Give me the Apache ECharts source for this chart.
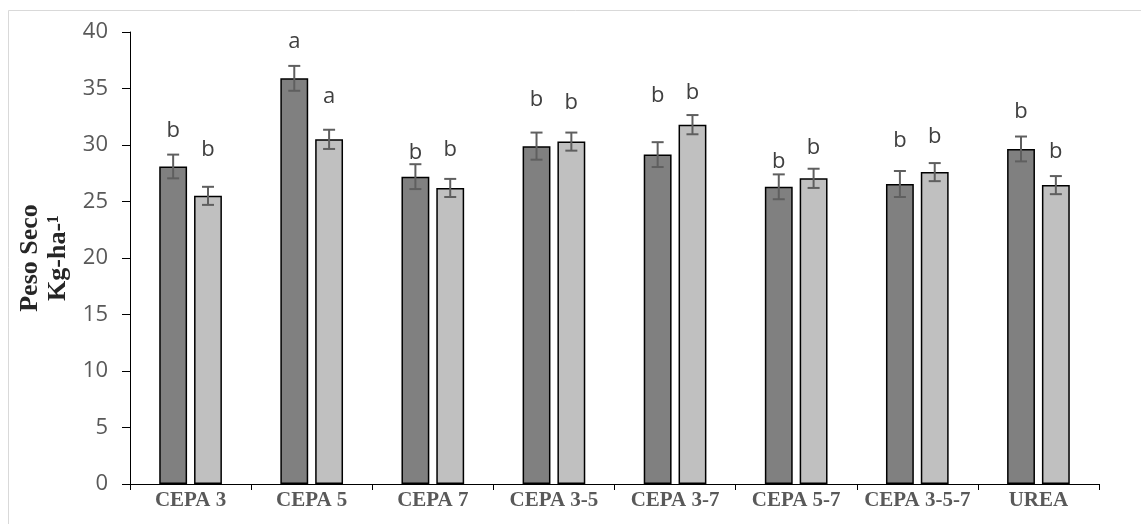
<!DOCTYPE html>
<html>
<head>
<meta charset="utf-8">
<script src="https://cdn.jsdelivr.net/npm/echarts@6/dist/echarts.min.js"></script>
<style>
html,body{margin:0;padding:0;background:#fff;}
#chart{width:1141px;height:524px;}
</style>
</head>
<body>
<div id="chart"></div>
<script>
var categories = ['CEPA 3','CEPA 5','CEPA 7','CEPA 3-5','CEPA 3-7','CEPA 5-7','CEPA 3-5-7','UREA'];
var darkValues  = [28.1, 35.9, 27.2, 29.9, 29.15, 26.3, 26.55, 29.65];
var lightValues = [25.5, 30.5, 26.2, 30.3, 31.8, 27.05, 27.6, 26.45];
var darkErr  = [1.05, 1.1, 1.1, 1.2, 1.1, 1.1, 1.15, 1.1];
var lightErr = [0.8, 0.85, 0.8, 0.8, 0.85, 0.85, 0.8, 0.8];
var darkLetters  = ['b','a','b','b','b','b','b','b'];
var lightLetters = ['b','a','b','b','b','b','b','b'];
var darkLetterAt  = [31.3, 39.1, 29.3, 34.0, 34.4, 28.5, 30.4, 32.9];
var lightLetterAt = [29.6, 34.3, 29.6, 33.7, 34.6, 29.8, 30.7, 29.4];
var yTicks = [0,5,10,15,20,25,30,35,40];

var BAR_W = 0.23, BAR_GAP = 0.25;
function offsetFor(s, band){
  var bw = band*BAR_W, gap = bw*BAR_GAP;
  return (s === 0 ? -1 : 1) * (bw + gap) / 2;
}

var errData = [];
var letterData = [];
categories.forEach(function(c, i){
  errData.push([i, darkValues[i]-darkErr[i], darkValues[i]+darkErr[i], 0]);
  errData.push([i, lightValues[i]-lightErr[i], lightValues[i]+lightErr[i], 1]);
  letterData.push([i, darkLetterAt[i], 0, darkLetters[i]]);
  letterData.push([i, lightLetterAt[i], 1, lightLetters[i]]);
});

var chart = echarts.init(document.getElementById('chart'));
chart.setOption({
  animation: false,
  backgroundColor: '#fff',
  graphic: [{
    type: 'rect', shape: {x: 8.5, y: 10.5, width: 1200, height: 600},
    style: {fill: 'none', stroke: '#d9d9d9', lineWidth: 1}, silent: true, z: -1
  }],
  grid: {left: 130, right: 42, top: 32, bottom: 40},
  xAxis: {
    type: 'category', data: categories,
    axisLine: {lineStyle: {color: '#000', width: 1}},
    axisTick: {show: true, length: 6, lineStyle: {color: '#000'}},
    axisLabel: {interval: 0, color: '#595959', fontFamily: 'Liberation Serif', fontWeight: 'bold', fontSize: 21, margin: 6}
  },
  yAxis: {
    type: 'value', min: 0, max: 40, interval: 5,
    name: 'Peso Seco\nKg-ha-\u00b9', nameLocation: 'middle', nameGap: 56, nameRotate: 90,
    nameTextStyle: {color: '#262626', fontFamily: 'Liberation Serif', fontWeight: 'bold', fontSize: 26, lineHeight: 28},
    axisLine: {show: true, lineStyle: {color: '#000', width: 1}},
    axisTick: {show: true, length: 8, lineStyle: {color: '#000'}},
    splitLine: {show: false},
    axisLabel: {color: '#595959', fontFamily: 'Open Sans', fontSize: 22, margin: 22,
      formatter: function(v){ return yTicks.indexOf(v) >= 0 ? String(v) : ''; }}
  },
  series: [
    {type: 'bar', data: darkValues, barWidth: (BAR_W*100)+'%', barGap: (BAR_GAP*100)+'%',
     itemStyle: {color: '#808080', borderColor: '#000', borderWidth: 1.5}},
    {type: 'bar', data: lightValues, barWidth: (BAR_W*100)+'%', barGap: (BAR_GAP*100)+'%',
     itemStyle: {color: '#c0c0c0', borderColor: '#000', borderWidth: 1.5}},
    {type: 'custom', data: errData, z: 10,
     renderItem: function(params, api){
       var i = api.value(0), s = api.value(3);
       var band = api.size([1,0])[0];
       var lo = api.coord([i, api.value(1)]);
       var hi = api.coord([i, api.value(2)]);
       var x = lo[0] + offsetFor(s, band);
       var cap = 6;
       var st = {stroke: '#5f5f5f', lineWidth: 2};
       return {type: 'group', children: [
         {type: 'line', shape: {x1: x, y1: lo[1], x2: x, y2: hi[1]}, style: st},
         {type: 'line', shape: {x1: x-cap, y1: lo[1], x2: x+cap, y2: lo[1]}, style: st},
         {type: 'line', shape: {x1: x-cap, y1: hi[1], x2: x+cap, y2: hi[1]}, style: st}
       ]};
     }},
    {type: 'custom', data: letterData, z: 11,
     renderItem: function(params, api){
       var i = api.value(0), s = api.value(2);
       var band = api.size([1,0])[0];
       var p = api.coord([i, api.value(1)]);
       return {type: 'text', x: p[0] + offsetFor(s, band), y: p[1],
         style: {text: letterData[params.dataIndex][3], fill: '#404040',
           font: '22px "Open Sans"', textAlign: 'center', textVerticalAlign: 'middle'}};
     }}
  ]
});
</script>
</body>
</html>
